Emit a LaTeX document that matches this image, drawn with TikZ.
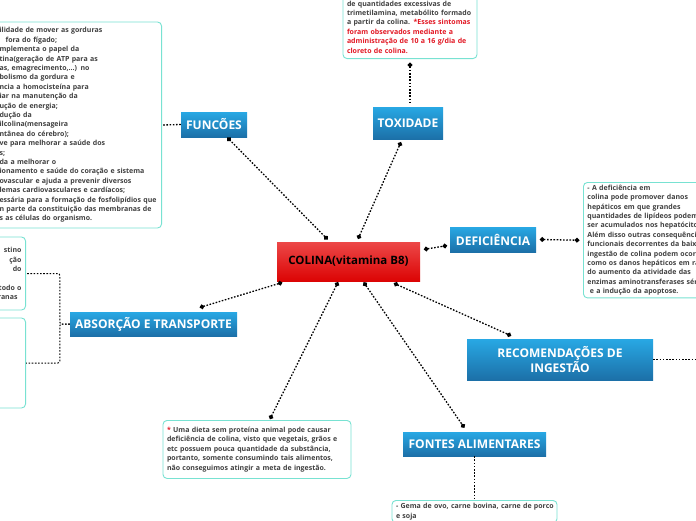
\documentclass[tikz,border=0pt]{standalone}
\usepackage{fontspec}
\setmainfont{Open Sans}
\usetikzlibrary{arrows.meta}
\definecolor{topictop}{RGB}{40,168,228}
\definecolor{topicbottom}{RGB}{28,112,168}
\definecolor{maintop}{RGB}{236,72,72}
\definecolor{mainbottom}{RGB}{220,4,4}
\definecolor{notedraw}{RGB}{120,226,210}
\definecolor{notetext}{RGB}{64,64,64}
\definecolor{notered}{RGB}{226,24,36}
\tikzset{
  topic/.style={top color=topictop, bottom color=topicbottom, text=white,
    font=\fontsize{12}{15}\selectfont\bfseries, inner sep=0pt, align=center},
  central/.style={top color=maintop, bottom color=mainbottom, text=black,
    font=\fontsize{11.5}{14}\selectfont\bfseries, inner sep=0pt},
  note/.style={draw=notedraw, line width=0.9pt, rounded corners=4pt, fill=white,
    text=notetext, font=\fontsize{7}{9.4}\selectfont\bfseries,
    inner xsep=4pt, inner ysep=3pt, align=left},
  plainlink/.style={line width=1.3pt, dash pattern=on 1.6pt off 1.6pt},
  link/.style={plainlink, {Circle[length=4.6pt]}-{Circle[length=4.6pt]},
    shorten <=-2.3pt, shorten >=-2.3pt},
  toplink/.style={plainlink, {Circle[length=4.6pt]}-, shorten <=-2.3pt},
}
\begin{document}
\begin{tikzpicture}[x=1pt,y=-1pt]
\useasboundingbox[fill=white] (0,0) rectangle (696,520);

\node[central, minimum width=143pt, minimum height=39pt] (colina) at (348.5,261.5) {COLINA(vitamina B8)};

\node[topic, minimum width=66pt, minimum height=25pt] (funcoes) at (214,124.5) {FUNCÕES};
\node[topic, minimum width=70pt, minimum height=32pt] (toxidade) at (408,123) {TOXIDADE};
\node[topic, minimum width=86pt, minimum height=25pt] (deficiencia) at (493,239.5) {DEFICIÊNCIA};
\node[topic, minimum width=167pt, minimum height=24pt] (absorcao) at (153.5,324) {ABSORÇÃO E TRANSPORTE};
\node[topic, minimum width=186pt, minimum height=41pt] (recomendacoes) at (560,359.5) {RECOMENDAÇÕES DE\\INGESTÃO};
\node[topic, minimum width=143pt, minimum height=24pt] (fontes) at (474.5,444) {FONTES ALIMENTARES};

\node[note, anchor=east, text width=158pt, minimum height=206pt] (nFuncoes) at (162,125) {%
ilidade de mover as gorduras\\
\hspace*{6pt}fora do fígado;\\
mplementa o papel da\\
tina(geração de ATP para as\\
as, emagrecimento,...) no\\
bolismo da gordura e\\
ncia a homocisteína para\\
iar na manutenção da\\
ução de energia;\\
dução da\\
ilcolina(mensageira\\
ntânea do cérebro);\\
ve para melhorar a saúde dos\\
s;\\
da a melhorar o\\
\mbox{ionamento e saúde do coração e sistema}\\
ovascular e ajuda a prevenir diversos\\
lemas cardiovasculares e cardíacos;\\
\mbox{essária para a formação de fosfolipídios que}\\
\mbox{n parte da constituição das membranas de}\\
s as células do organismo.};

\node[note, anchor=south, text width=126pt, minimum height=63pt] (nToxidade) at (410,59) {%
\mbox{de quantidades excessivas de}\\
\mbox{trimetilamina, metabólito formado}\\
\mbox{a partir da colina. \textcolor{notered}{*Esses sintomas}}\\
\textcolor{notered}{\mbox{foram observados mediante a}}\\
\textcolor{notered}{\mbox{administração de 10 a 16 g/dia de}}\\
\textcolor{notered}{cloreto de colina.}};

\node[note, anchor=north west, text width=140pt, inner ysep=2.5pt] (nDeficiencia) at (583,182) {%
- A deficiência em\\
colina pode promover danos\\
hepáticos em que grandes\\
quantidades de lipídeos podem\\
ser acumulados nos hepatócitos\\
Além disso outras consequência\\
funcionais decorrentes da baixa\\
ingestão de colina podem ocorr\\
como os danos hepáticos em ra\\
do aumento da atividade das\\
enzimas aminotransferases séri\\
\ e a indução da apoptose.};

\node[note, anchor=east, text width=60pt, minimum height=73pt, align=right] (nAbsA) at (26,273.5) {%
stino\hspace*{4pt}\\
ção\hspace*{11pt}\\
do\hspace*{13pt}\\
\mbox{}\\
todo o\\
ranas\hspace*{4pt}};
\node[note, anchor=east, text width=60pt, minimum height=90pt] (nAbsB) at (26,363) {};

\node[note, anchor=north, text width=180pt, minimum height=58pt] (nDieta) at (257,420) {%
\textcolor{notered}{*} Uma dieta sem proteína animal pode causar\\
deficiência de colina, visto que vegetais, grãos e\\
etc possuem pouca quantidade da substância,\\
portanto, somente consumindo tais alimentos,\\
não conseguimos atingir a meta de ingestão.};

\node[note, anchor=north, text width=157pt] (nFontes) at (474.5,500) {%
\mbox{- Gema de ovo, carne bovina, carne de porco}\\
e soja};

\coordinate (nRecomendacoes) at (700,359.5);

\draw[link] ([shift={(-22.5,-4)}]colina.north) -- ([shift={(15,2)}]funcoes.south);
\draw[link] ([shift={(10.5,-5)}]colina.north) -- ([shift={(-8,5)}]toxidade.south);
\draw[link] ([shift={(6,-12.5)}]colina.east) -- ([shift={(-5,6.5)}]deficiencia.west);
\draw[link] ([shift={(-68.5,2)}]colina.south) -- ([shift={(48.5,-5)}]absorcao.north);
\draw[link] ([shift={(-11.5,3)}]colina.south) -- ([shift={(14,-3)}]nDieta.north);
\draw[link] ([shift={(16.5,3)}]colina.south) -- ([shift={(-11.5,-6)}]fontes.north);
\draw[link] ([shift={(47.5,3)}]colina.south) -- ([shift={(-51,-4)}]recomendacoes.north);

\draw[toplink] ([shift={(0,6)}]nToxidade.south) -- ([shift={(2,-2)}]toxidade.north);
\draw[link] ([xshift=6pt]deficiencia.east) -- ([xshift=-6pt]nDeficiencia.west);
\draw[plainlink] (funcoes.west) -- (nFuncoes.east);
\draw[plainlink] (fontes.south) -- (nFontes.north);
\draw[plainlink] (recomendacoes.east) -- (nRecomendacoes);
\draw[plainlink, line width=1pt, rounded corners=2pt] (absorcao.west) -- ++(-10,0) |- (nAbsA.east);
\draw[plainlink, line width=1pt, rounded corners=2pt] (absorcao.west) -- ++(-10,0) |- (nAbsB.east);

\end{tikzpicture}
\end{document}
